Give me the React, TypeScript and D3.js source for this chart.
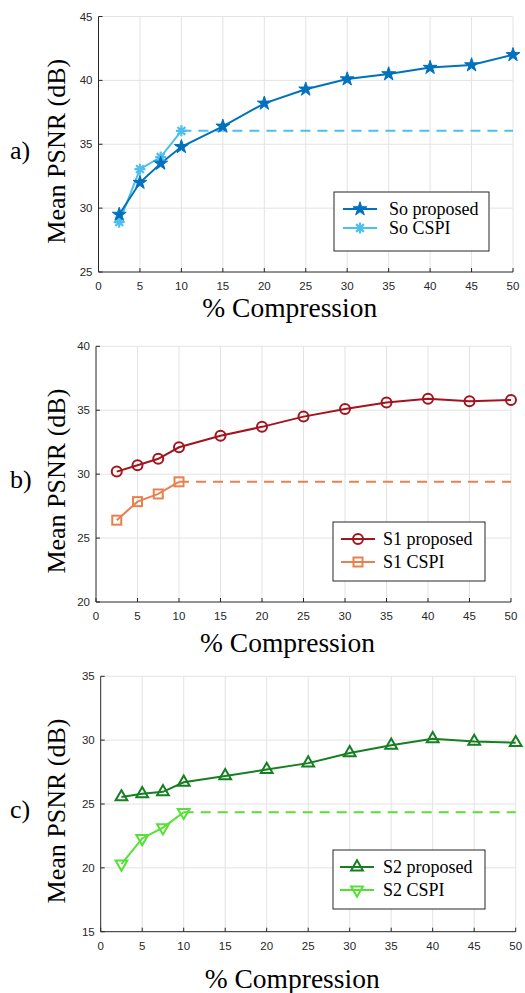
import React from 'react';
import * as d3 from 'd3';

// compression ratios (%)
const xProposed = [2.5, 5, 7.5, 10, 15, 20, 25, 30, 35, 40, 45, 50];
const xCspi = [2.5, 5, 7.5, 10];
const xTicks = [0, 5, 10, 15, 20, 25, 30, 35, 40, 45, 50];
const xPlateau = [10, 50];

// panel a
const soProposed = [29.5, 32.0, 33.5, 34.8, 36.4, 38.2, 39.3, 40.1, 40.5, 41.0, 41.2, 42.0];
const soCspi = [28.9, 33.05, 34.0, 36.05];
// panel b
const s1Proposed = [30.2, 30.7, 31.2, 32.1, 33.0, 33.7, 34.5, 35.1, 35.6, 35.9, 35.7, 35.8];
const s1Cspi = [26.4, 27.85, 28.45, 29.4];
// panel c
const s2Proposed = [25.55, 25.8, 25.95, 26.7, 27.2, 27.7, 28.2, 29.0, 29.6, 30.1, 29.9, 29.8];
const s2Cspi = [20.3, 22.3, 23.15, 24.35];

const serif = '"Liberation Serif", "Times New Roman", serif';
const sans = '"Liberation Sans", Arial, sans-serif';

type MarkerKind = 'star' | 'asterisk' | 'circle' | 'square' | 'triUp' | 'triDown';

function Marker({ kind, x, y, color }: { kind: MarkerKind; x: number; y: number; color: string }) {
  if (kind === 'star') {
    const p = d3.symbol().type(d3.symbolStar).size(60)();
    return <path d={p || ''} transform={`translate(${x},${y})`} fill={color} stroke={color} strokeWidth={1} />;
  }
  if (kind === 'asterisk') {
    const r = 5.5;
    let d = '';
    for (let k = 0; k < 4; k++) {
      const a = (k * Math.PI) / 4;
      d += `M${-r * Math.cos(a)},${-r * Math.sin(a)}L${r * Math.cos(a)},${r * Math.sin(a)}`;
    }
    return <path d={d} transform={`translate(${x},${y})`} stroke={color} strokeWidth={2.2} fill="none" />;
  }
  if (kind === 'circle') {
    return <circle cx={x} cy={y} r={5} fill="none" stroke={color} strokeWidth={2} />;
  }
  if (kind === 'square') {
    return <rect x={x - 4.5} y={y - 4.5} width={9} height={9} fill="none" stroke={color} strokeWidth={2} />;
  }
  const p = d3.symbol().type(d3.symbolTriangle).size(60)();
  const rot = kind === 'triDown' ? 180 : 0;
  return <path d={p || ''} transform={`translate(${x},${y}) rotate(${rot})`} fill="none" stroke={color} strokeWidth={2} />;
}

interface PanelProps {
  tag: string;
  box: [number, number, number, number]; // left, right, top, bottom
  yDomain: [number, number];
  proposed: number[];
  cspi: number[];
  names: [string, string];
  colors: [string, string];
  markers: [MarkerKind, MarkerKind];
  legend: { x0: number; y0: number; w: number; h: number; rows: [number, number]; lx: [number, number]; tx: number };
  xLabelY: number;
}

function Panel(p: PanelProps) {
  const [left, right, top, bottom] = p.box;
  const x = d3.scaleLinear().domain([0, 50]).range([left, right]);
  const y = d3.scaleLinear().domain(p.yDomain).range([bottom, top]);
  const yTicks = y.ticks(4);
  const line = d3.line<[number, number]>().x(d => x(d[0])).y(d => y(d[1]));
  const propPts = xProposed.map((v, i) => [v, p.proposed[i]] as [number, number]);
  const cspiPts = xCspi.map((v, i) => [v, p.cspi[i]] as [number, number]);
  const plateau = p.cspi[p.cspi.length - 1];
  const platPts = xPlateau.map(v => [v, plateau] as [number, number]);
  const lg = p.legend;

  return (
    <g>
      {/* grid */}
      {xTicks.slice(1).map(t => (
        <line key={'gx' + t} x1={x(t)} x2={x(t)} y1={top} y2={bottom} stroke="#e3e3e3" strokeWidth={1} />
      ))}
      {yTicks.slice(1).map(t => (
        <line key={'gy' + t} x1={left} x2={right} y1={y(t)} y2={y(t)} stroke="#e3e3e3" strokeWidth={1} />
      ))}
      {/* axes */}
      <line x1={left} x2={right} y1={bottom} y2={bottom} stroke="#262626" strokeWidth={1} />
      <line x1={left} x2={left} y1={top} y2={bottom} stroke="#262626" strokeWidth={1} />
      {xTicks.map(t => (
        <g key={'tx' + t}>
          <line x1={x(t)} x2={x(t)} y1={bottom} y2={bottom - 4} stroke="#262626" />
          <text x={x(t)} y={bottom + 18} textAnchor="middle" fontFamily={sans} fontSize={11.5} fill="#262626">{t}</text>
        </g>
      ))}
      {yTicks.map(t => (
        <g key={'ty' + t}>
          <line x1={left} x2={left + 4} y1={y(t)} y2={y(t)} stroke="#262626" />
          <text x={left - 6} y={y(t) + 4} textAnchor="end" fontFamily={sans} fontSize={11.5} fill="#262626">{t}</text>
        </g>
      ))}
      {/* series */}
      <path d={line(platPts) || ''} fill="none" stroke={p.colors[1]} strokeWidth={2} strokeDasharray="10 7" />
      <path d={line(cspiPts) || ''} fill="none" stroke={p.colors[1]} strokeWidth={2} />
      <path d={line(propPts) || ''} fill="none" stroke={p.colors[0]} strokeWidth={2} />
      {cspiPts.map((d, i) => <Marker key={'mc' + i} kind={p.markers[1]} x={x(d[0])} y={y(d[1])} color={p.colors[1]} />)}
      {propPts.map((d, i) => <Marker key={'mp' + i} kind={p.markers[0]} x={x(d[0])} y={y(d[1])} color={p.colors[0]} />)}
      {/* labels */}
      <text x={(left + right) / 2 - 16} y={p.xLabelY} textAnchor="middle" fontFamily={serif} fontSize={27.5} fill="#000">% Compression</text>
      <text transform={`translate(65,${(top + bottom) / 2 + 7}) rotate(-90)`} textAnchor="middle" fontFamily={serif} fontSize={26} fill="#000">Mean PSNR (dB)</text>
      <text x={10} y={top + 142} fontFamily={serif} fontSize={26} fill="#000">{p.tag}</text>
      {/* legend */}
      <rect x={lg.x0} y={lg.y0} width={lg.w} height={lg.h} fill="#fff" stroke="#262626" strokeWidth={1} />
      {p.names.map((n, i) => (
        <g key={'lg' + i}>
          <line x1={lg.lx[0]} x2={lg.lx[1]} y1={lg.rows[i]} y2={lg.rows[i]} stroke={p.colors[i]} strokeWidth={2} />
          <Marker kind={p.markers[i]} x={(lg.lx[0] + lg.lx[1]) / 2} y={lg.rows[i]} color={p.colors[i]} />
          <text x={lg.tx} y={lg.rows[i] + 6} fontFamily={serif} fontSize={18} fill="#000">{n}</text>
        </g>
      ))}
    </g>
  );
}

export default function App() {
  return (
    <svg width={525} height={993} style={{ position: 'absolute', left: 0, top: 0, background: '#fff' }}>
      <rect width={525} height={993} fill="#fff" />
      <Panel
        tag="a)"
        box={[98.5, 513, 16.5, 272]}
        yDomain={[25, 45]}
        proposed={soProposed}
        cspi={soCspi}
        names={['So proposed', 'So CSPI']}
        colors={['#0072BD', '#4DBEEE']}
        markers={['star', 'asterisk']}
        legend={{ x0: 334, y0: 192, w: 155, h: 59, rows: [209, 228], lx: [343, 377], tx: 389 }}
        xLabelY={317}
      />
      <Panel
        tag="b)"
        box={[96, 511, 346.3, 602]}
        yDomain={[20, 40]}
        proposed={s1Proposed}
        cspi={s1Cspi}
        names={['S1 proposed', 'S1 CSPI']}
        colors={['#A2141E', '#E8804F']}
        markers={['circle', 'square']}
        legend={{ x0: 333, y0: 522, w: 152, h: 59, rows: [539, 562], lx: [341, 375], tx: 383 }}
        xLabelY={652}
      />
      <Panel
        tag="c)"
        box={[100.7, 515.7, 676.3, 931.7]}
        yDomain={[15, 35]}
        proposed={s2Proposed}
        cspi={s2Cspi}
        names={['S2 proposed', 'S2 CSPI']}
        colors={['#167F22', '#55E035']}
        markers={['triUp', 'triDown']}
        legend={{ x0: 333, y0: 850, w: 152, h: 59, rows: [867, 890], lx: [340, 374], tx: 383 }}
        xLabelY={988}
      />
    </svg>
  );
}
